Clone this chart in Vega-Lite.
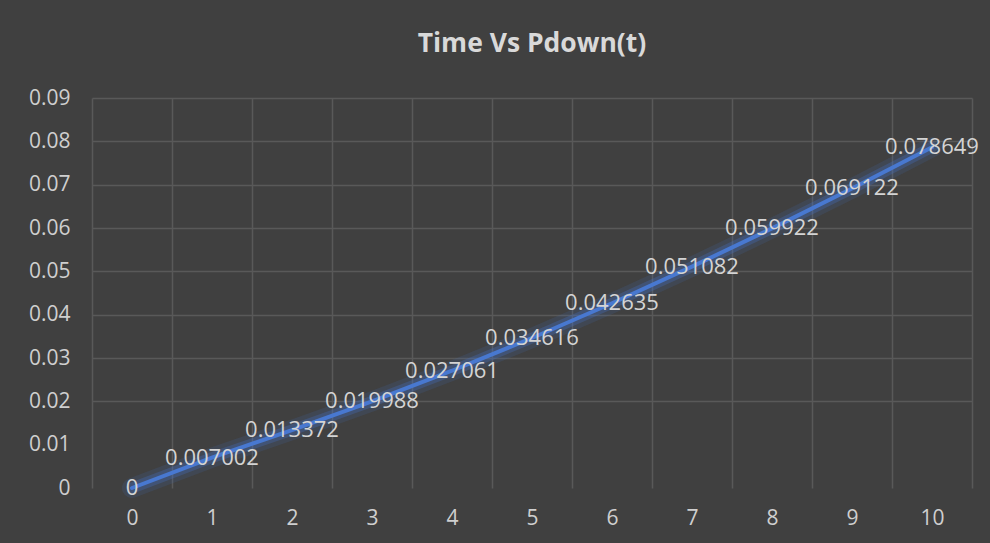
{
  "$schema": "https://vega.github.io/schema/vega-lite/v6.json",
  "width": 880,
  "height": 390,
  "autosize": "none",
  "padding": {"left": 92, "top": 98, "right": 18, "bottom": 55},
  "background": "#404040",
  "config": {"view": {"stroke": null}, "font": "Open Sans"},
  "title": {"text": "Time Vs Pdown(t)", "color": "#d9d9d9", "fontSize": 26.5, "fontWeight": "bold", "font": "Open Sans", "anchor": "middle", "baseline": "alphabetic", "offset": 9},
  "data": {"values": [
    {"t": 0, "p": 0},
    {"t": 1, "p": 0.007002},
    {"t": 2, "p": 0.013372},
    {"t": 3, "p": 0.019988},
    {"t": 4, "p": 0.027061},
    {"t": 5, "p": 0.034616},
    {"t": 6, "p": 0.042635},
    {"t": 7, "p": 0.051082},
    {"t": 8, "p": 0.059922},
    {"t": 9, "p": 0.069122},
    {"t": 10, "p": 0.078649}
  ]},
  "layer": [
    {
      "mark": {"type": "line", "color": "#4472C4", "strokeWidth": 20, "opacity": 0.15, "strokeCap": "round"},
      "encoding": {
        "x": {"field": "t", "type": "quantitative", "scale": {"domain": [-0.5, 10.5], "nice": false, "zero": false},
          "axis": {"orient": "top", "values": [-0.5, 0.5, 1.5, 2.5, 3.5, 4.5, 5.5, 6.5, 7.5, 8.5, 9.5, 10.5], "grid": true, "gridColor": "#595959", "gridWidth": 1.5, "labels": false, "ticks": false, "domain": false, "title": null}},
        "y": {"field": "p", "type": "quantitative", "scale": {"domain": [0, 0.09], "nice": false},
          "axis": {"values": [0, 0.01, 0.02, 0.03, 0.04, 0.05, 0.06, 0.07, 0.08, 0.09], "format": ".2~f", "grid": true, "gridColor": "#595959", "gridWidth": 1.5, "gridOpacity": {"condition": {"test": "datum.value < 0.015", "value": 0}, "value": 1}, "ticks": false, "domain": false, "labelColor": "#cfcfcf", "labelFontSize": 21, "labelFont": "Open Sans", "labelPadding": 22, "title": null}}
      }
    },
    {
      "mark": {"type": "line", "color": "#4472C4", "strokeWidth": 11, "opacity": 0.3, "strokeCap": "round"},
      "encoding": {
        "x": {"field": "t", "type": "quantitative", "axis": null},
        "y": {"field": "p", "type": "quantitative",
          "axis": {"values": [0, 0.01, 0.02, 0.03, 0.04, 0.05, 0.06, 0.07, 0.08, 0.09], "format": ".2~f", "grid": true, "gridColor": "#595959", "gridWidth": 1.5, "gridOpacity": {"condition": {"test": "datum.value < 0.015", "value": 0}, "value": 1}, "ticks": false, "domain": false, "labelColor": "#cfcfcf", "labelFontSize": 21, "labelFont": "Open Sans", "labelPadding": 22, "title": null}}
      }
    },
    {
      "mark": {"type": "line", "color": "#4878d0", "strokeWidth": 4, "strokeCap": "round"},
      "encoding": {
        "x": {"field": "t", "type": "quantitative",
          "axis": {"orient": "bottom", "values": [0, 1, 2, 3, 4, 5, 6, 7, 8, 9, 10], "grid": false, "ticks": false, "domain": false, "labelColor": "#cfcfcf", "labelFontSize": 21, "labelFont": "Open Sans", "labelPadding": 19, "title": null}},
        "y": {"field": "p", "type": "quantitative",
          "axis": {"values": [0, 0.01, 0.02, 0.03, 0.04, 0.05, 0.06, 0.07, 0.08, 0.09], "format": ".2~f", "grid": true, "gridColor": "#595959", "gridWidth": 1.5, "gridOpacity": {"condition": {"test": "datum.value < 0.015", "value": 0}, "value": 1}, "ticks": false, "domain": false, "labelColor": "#cfcfcf", "labelFontSize": 21, "labelFont": "Open Sans", "labelPadding": 22, "title": null}}
      }
    },
    {
      "mark": {"type": "text", "color": "#d4d4d4", "fontSize": 22, "font": "Open Sans", "align": "center", "baseline": "middle"},
      "encoding": {
        "x": {"field": "t", "type": "quantitative", "axis": null},
        "y": {"field": "p", "type": "quantitative",
          "axis": {"values": [0, 0.01, 0.02, 0.03, 0.04, 0.05, 0.06, 0.07, 0.08, 0.09], "format": ".2~f", "grid": true, "gridColor": "#595959", "gridWidth": 1.5, "gridOpacity": {"condition": {"test": "datum.value < 0.015", "value": 0}, "value": 1}, "ticks": false, "domain": false, "labelColor": "#cfcfcf", "labelFontSize": 21, "labelFont": "Open Sans", "labelPadding": 22, "title": null}},
        "text": {"field": "p", "type": "quantitative", "format": ".6~f"}
      }
    }
  ],
  "resolve": {"axis": {"x": "independent"}}
}
